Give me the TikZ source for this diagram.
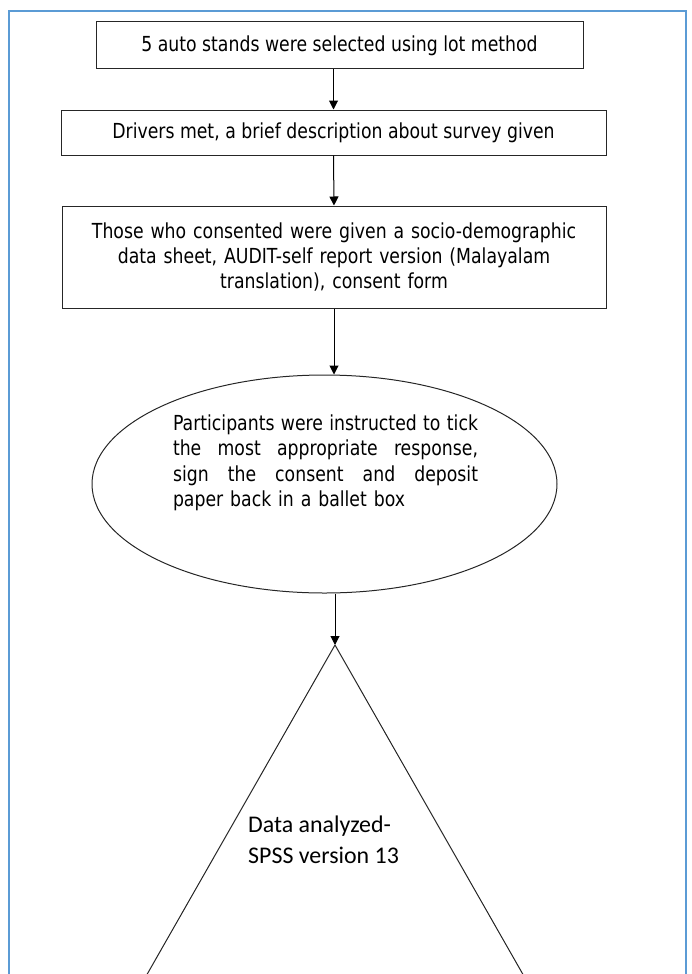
\documentclass[tikz,border=0pt]{standalone}
\usepackage{fontspec}
\setmainfont{DejaVu Sans}[FakeStretch=0.835]
\newfontfamily\calfont{Carlito}
\usetikzlibrary{shapes.geometric,arrows.meta}
\definecolor{frameblue}{RGB}{91,155,213}
\newcommand{\fullline}[1]{\makebox[305pt][s]{\spaceskip=0pt\relax\xspaceskip=0pt\relax #1}}
\tikzset{
  stepbox/.style={draw=black!85, line width=1pt, inner sep=0pt, align=center, font=\fontsize{20.7}{25}\selectfont},
  flow/.style={draw=black, line width=1pt, -{Triangle[width=9pt,length=9pt]}}
}
\begin{document}
\begin{tikzpicture}[x=1pt,y=-1pt]
\useasboundingbox (0,0) rectangle (692,974);
\clip (0,0) rectangle (692,974);
\draw [frameblue, line width=2pt] (9,990) -- (9,11) -- (686,11) -- (686,990);
\node[stepbox, minimum width=487pt, minimum height=47pt] (lot) at (339.5,45.5) {5 auto stands were selected using lot method};
\node[stepbox, minimum width=545pt, minimum height=45pt] (met) at (333.5,132.5) {Drivers met, a brief description about survey given};
\node[stepbox, minimum width=544pt, minimum height=102pt, text width=520pt] (forms) at (334,257) {Those who consented were given a socio-demographic\\data sheet, AUDIT-self report version (Malayalam\\translation), consent form};
\node[ellipse, draw=black!85, line width=1pt, minimum width=465pt, minimum height=218pt] (tick) at (324.5,484) {};
\node[align=left, text width=305pt, inner sep=0pt, font=\fontsize{20.7}{25.5}\selectfont] (ticktext) at (325.5,463) {\fullline{Participants were instructed to tick}\\\fullline{the most appropriate response,}\\\fullline{sign the consent and deposit}\\paper back in a ballet box};
\coordinate (spss) at (335,645);
\draw [black!85, line width=1pt] (spss) -- ++(-210,368);
\draw [black!85, line width=1pt] (spss) -- ++(210,368);
\node[anchor=west, align=left, inner sep=0pt, font=\calfont\fontsize{23.9}{31}\selectfont] (spsstext) at (248,840) {Data analyzed-\\SPSS version 13};
\draw [flow] (lot.south -| met.north) -- (met.north);
\draw [flow] (met.south) -- (forms.north);
\draw [flow] (forms.south) -- (forms.south |- tick.north);
\draw [flow] (tick.south -| spss) -- (spss);
\end{tikzpicture}
\end{document}
